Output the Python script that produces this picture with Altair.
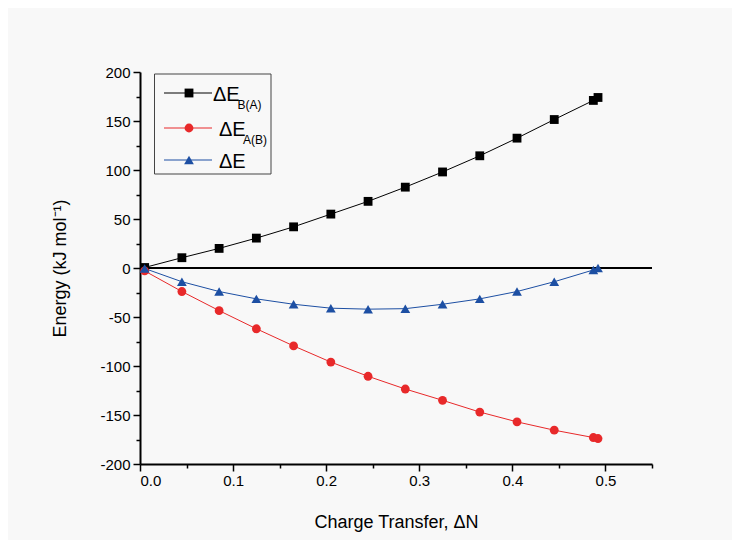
import altair as alt
import pandas as pd

# ---- data ----
charge = [0.005, 0.045, 0.085, 0.125, 0.165, 0.205, 0.245, 0.285, 0.325, 0.365, 0.405, 0.445, 0.487, 0.492]
dE_BA = [0.5, 10.5, 20, 30.5, 42, 55, 68, 82.5, 98, 114.5, 132.5, 151.5, 171, 174]
dE_AB = [-3, -24, -43.5, -62, -79.5, -96, -110.5, -123.5, -135, -147, -157, -165.5, -173, -174]
dE = [-0.5, -14, -24, -31.5, -37, -41, -42, -41.5, -37, -31.5, -24, -14, -2, 0]

series_names = ["BA", "AB", "E"]
series_colors = ["#000000", "#e8292a", "#1d4fa3"]
series_shapes = ["square", "circle", "triangle-up"]
legend_main = ["ΔE", "ΔE", "ΔE"]
legend_sub = ["B(A)", "A(B)", ""]

x_ticks = [round(i * 0.05, 2) for i in range(12)]
y_ticks = list(range(-200, 201, 25))

FONT = "Liberation Sans"
W, H = 512, 392

rows = []
for name, vals in zip(series_names, [dE_BA, dE_AB, dE]):
    for i, (xv, yv) in enumerate(zip(charge, vals)):
        rows.append({"series": name, "x": xv, "y": yv, "i": i})
df = pd.DataFrame(rows)

xscale = alt.Scale(domain=[0, 0.55], nice=False, zero=False)
yscale = alt.Scale(domain=[-200, 200], nice=False)

x_axis = alt.Axis(
    values=x_ticks,
    labelExpr="(round(datum.value*100) % 10 == 0 && datum.value < 0.52) ? format(datum.value, '.1f') : ''",
    tickSize={"condition": {"test": "round(datum.value*100) % 10 == 0", "value": 7}, "value": 4},
    tickColor="black", tickWidth=1.5,
    domainColor="black", domainWidth=2,
    labelFont=FONT, labelFontSize=15, labelColor="black", labelPadding=2,
    grid=False,
    title="Charge Transfer, ΔN",
    titleFont=FONT, titleFontSize=18, titleFontWeight="normal", titleColor="black",
    titleX=W / 2, titleY=58, titleBaseline="middle", titleAnchor="middle",
)
y_axis = alt.Axis(
    values=y_ticks,
    labelExpr="datum.value % 50 == 0 ? ('' + datum.value) : ''",
    tickSize={"condition": {"test": "datum.value % 50 == 0", "value": 7}, "value": 4},
    tickColor="black", tickWidth=1.5,
    domainColor="black", domainWidth=2,
    labelFont=FONT, labelFontSize=15, labelColor="black", labelPadding=3,
    grid=False,
    title="Energy (kJ mol⁻¹)",
    titleFont=FONT, titleFontSize=18, titleFontWeight="normal", titleColor="black",
    titleX=-80, titleY=H / 2, titleBaseline="middle", titleAnchor="middle", titleAngle=-90,
)

color = alt.Color("series:N", scale=alt.Scale(domain=series_names, range=series_colors), legend=None)
shape = alt.Shape("series:N", scale=alt.Scale(domain=series_names, range=series_shapes), legend=None)

zero = alt.Chart(pd.DataFrame({"y": [0]})).mark_rule(color="black", strokeWidth=2).encode(
    y=alt.Y("y:Q", scale=yscale, axis=y_axis),
    x=alt.value(0), x2=alt.value(W),
)

base = alt.Chart(df)
lines = base.mark_line(strokeWidth=1).encode(
    x=alt.X("x:Q", scale=xscale, axis=x_axis),
    y=alt.Y("y:Q", scale=yscale, axis=y_axis),
    color=color, detail="series:N", order="i:Q",
)

marker_sizes = [78, 78, 95]
point_layers = []
for name, sz in zip(series_names, marker_sizes):
    point_layers.append(
        alt.Chart(df[df.series == name]).mark_point(filled=True, opacity=1, strokeWidth=0).encode(
            x=alt.X("x:Q", scale=xscale, axis=x_axis),
            y=alt.Y("y:Q", scale=yscale, axis=y_axis),
            color=color, shape=shape, size=alt.value(sz),
        )
    )

# ---- manual legend (subscripts need separate text) ----
leg_y = [21, 56, 88]
leg_text_x = [73, 79, 79]
leg_sub_x = [97.5, 103, 0]
legend_layers = [
    alt.Chart(pd.DataFrame({"a": [0]})).mark_rect(fill=None, stroke="#444", strokeWidth=1).encode(
        x=alt.value(14.5), x2=alt.value(131), y=alt.value(2), y2=alt.value(102)
    )
]
for k in range(3):
    d = pd.DataFrame({"series": [series_names[k]]})
    legend_layers.append(
        alt.Chart(d).mark_rule(strokeWidth=1, color=series_colors[k]).encode(
            x=alt.value(24), x2=alt.value(72), y=alt.value(leg_y[k])
        )
    )
    legend_layers.append(
        alt.Chart(d).mark_point(filled=True, opacity=1, strokeWidth=0, color=series_colors[k],
                                shape=series_shapes[k], size=marker_sizes[k]).encode(
            x=alt.value(49), y=alt.value(leg_y[k])
        )
    )
    legend_layers.append(
        alt.Chart(d).mark_text(text=legend_main[k], font=FONT, fontSize=20, align="left",
                               baseline="middle", color="black").encode(
            x=alt.value(leg_text_x[k]), y=alt.value(leg_y[k] + 2)
        )
    )
    if legend_sub[k]:
        legend_layers.append(
            alt.Chart(d).mark_text(text=legend_sub[k], font=FONT, fontSize=12, align="left",
                                   baseline="middle", color="black").encode(
                x=alt.value(leg_sub_x[k]), y=alt.value(leg_y[k] + 12)
            )
        )

chart = alt.layer(zero, lines, *point_layers, *legend_layers).properties(
    width=W, height=H,
    autosize=alt.AutoSizeParams(type="none"),
    padding={"left": 132, "top": 64, "right": 80, "bottom": 76},
    background="#f8f8f8",
).configure_view(stroke=None)

chart.save("out.html", embed_options={"renderer": "svg", "actions": False})
